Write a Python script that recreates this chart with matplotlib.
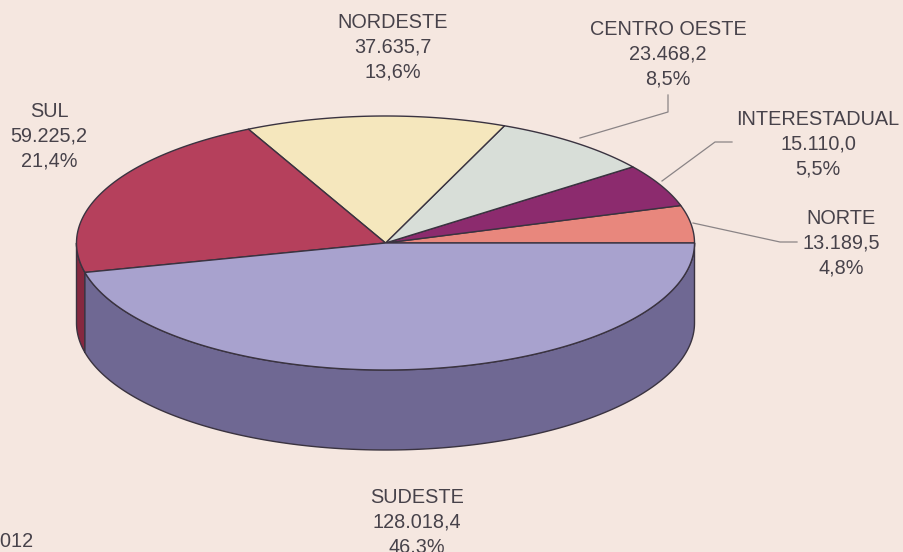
import numpy as np
import matplotlib
matplotlib.use("Agg")
import matplotlib.pyplot as plt
from matplotlib.patches import Polygon

# ---- data (counter-clockwise from 3 o'clock) ----
regions = ["NORTE", "INTERESTADUAL", "CENTRO OESTE", "NORDESTE", "SUL", "SUDESTE"]
values = [13189.5, 15110.0, 23468.2, 37635.7, 59225.2, 128018.4]
top_colors = ["#e8877d", "#8c2b6e", "#d8ded8", "#f5e7bd", "#b5405c", "#a8a2ce"]
side_colors = ["#b8635c", "#66204f", "#a9ada8", "#c4b890", "#86283f", "#6f6893"]
year_text = "2012"

def fmt_br(v):
    s = f"{v:,.1f}"
    return s.replace(",", "X").replace(".", ",").replace("X", ".")

total = sum(values)
pcts = [v / total * 100 for v in values]

W, H = 904, 552
fig = plt.figure(figsize=(W / 100, H / 100), dpi=100)
bg = "#f5e7e0"
fig.patch.set_facecolor(bg)
ax = fig.add_axes([0, 0, 1, 1])
ax.set_xlim(0, W)
ax.set_ylim(H, 0)
ax.axis("off")
ax.set_facecolor(bg)

cx, cy, rx, ry, depth = 385.5, 243.0, 309.0, 127.0, 80.0
edge = "#3a3340"

def pt(theta, dy=0.0):
    return cx + rx * np.cos(theta), cy - ry * np.sin(theta) + dy

bounds = np.concatenate([[0], np.cumsum(values)]) / total * 2 * np.pi

# side faces (front half: angles pi..2pi)
for i in range(len(values)):
    a1, a2 = bounds[i], bounds[i + 1]
    lo, hi = max(a1, np.pi), min(a2, 2 * np.pi)
    if hi <= lo:
        continue
    th = np.linspace(lo, hi, 200)
    xs, ys = pt(th)
    xb, yb = pt(th[::-1], depth)
    poly = np.column_stack([np.concatenate([xs, xb]), np.concatenate([ys, yb])])
    ax.add_patch(Polygon(poly, closed=True, facecolor=side_colors[i],
                         edgecolor=edge, linewidth=1.0, joinstyle="round"))

# top faces
for i in range(len(values)):
    a1, a2 = bounds[i], bounds[i + 1]
    th = np.linspace(a1, a2, 300)
    xs, ys = pt(th)
    poly = np.column_stack([np.concatenate([[cx], xs]), np.concatenate([[cy], ys])])
    ax.add_patch(Polygon(poly, closed=True, facecolor=top_colors[i],
                         edgecolor=edge, linewidth=1.0, joinstyle="round"))

# labels
txt_col = "#47424a"
font = dict(family=["Liberation Sans", "DejaVu Sans"], fontsize=14.3, color=txt_col,
            ha="center", va="baseline")
label_pos = {
    "SUL": (49, 117),
    "NORDESTE": (393, 28),
    "CENTRO OESTE": (668, 35),
    "INTERESTADUAL": (818, 125),
    "NORTE": (841, 224),
    "SUDESTE": (417, 503),
}
step = 24.7
for name, v, p in zip(regions, values, pcts):
    x, y = label_pos[name]
    lines = [name, fmt_br(v), f"{p:.1f}%".replace(".", ",")]
    for k, s in enumerate(lines):
        ax.text(x, y + k * step, s, **font)

# leader lines
lc = "#8a8486"
leaders = [
    [(580, 138), (668, 112), (668, 95)],
    [(662, 181), (715, 142), (732, 142)],
    [(693, 223), (780, 242), (797, 242)],
]
for seg in leaders:
    xs, ys = zip(*seg)
    ax.plot(xs, ys, color=lc, linewidth=0.9)

ax.text(33, 547, year_text, family=["Liberation Sans", "DejaVu Sans"], fontsize=14.3,
        color=txt_col, ha="right", va="baseline")

fig.savefig("out.png", dpi=100, facecolor=bg)
